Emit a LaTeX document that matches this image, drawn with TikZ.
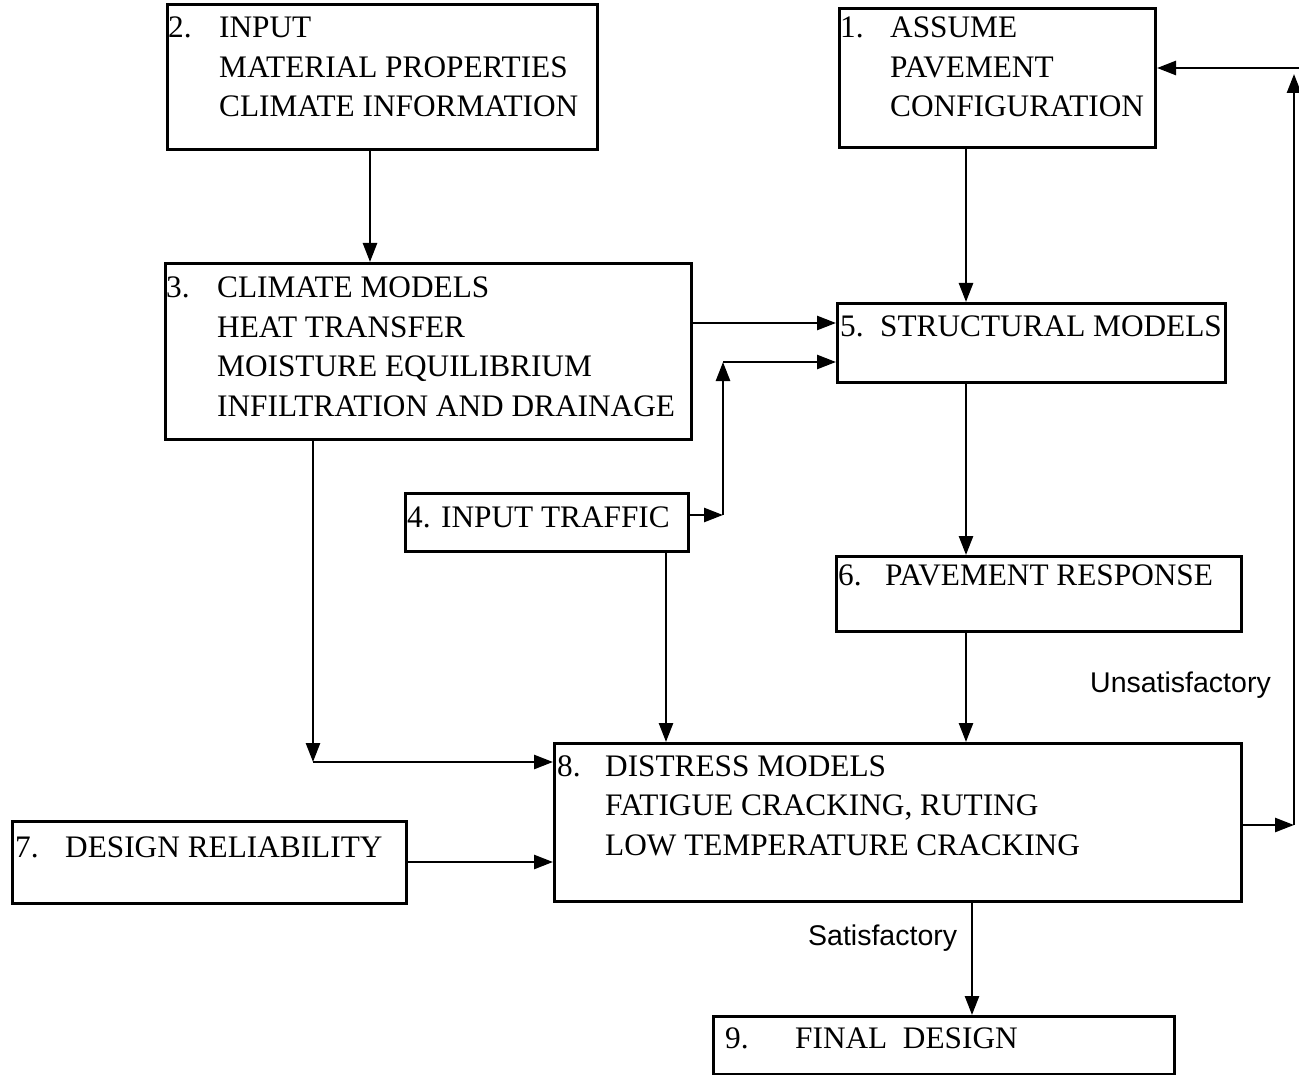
\documentclass[tikz,border=0pt]{standalone}
\usepackage{fontspec}
\setmainfont{Liberation Serif}
\setsansfont{Liberation Sans}
\usetikzlibrary{arrows.meta}
\begin{document}
\begin{tikzpicture}[x=1pt,y=-1pt,
  box/.style={draw, line width=3pt, rectangle, inner sep=0pt, anchor=north west},
  txt/.style={inner sep=0pt, anchor=base west, font=\fontsize{31.3}{39.5}\selectfont},
  lab/.style={inner sep=0pt, anchor=base west, font=\sffamily\fontsize{28.5}{32}\selectfont},
  arr/.style={line width=2.6pt, -{Triangle[length=19pt,width=14pt]}}]
\useasboundingbox[fill=white] (0,0) rectangle (1299,1075);
% boxes
\node[box, minimum width=430pt, minimum height=145pt] (b2) at (166,3) {};
\node[box, minimum width=316pt, minimum height=139pt] (b1) at (838,7) {};
\node[box, minimum width=526pt, minimum height=176pt] (b3) at (164,262) {};
\node[box, minimum width=388pt, minimum height=79pt] (b5) at (836,302) {};
\node[box, minimum width=283pt, minimum height=58pt] (b4) at (404,492) {};
\node[box, minimum width=405pt, minimum height=75pt] (b6) at (835,555) {};
\node[box, minimum width=687pt, minimum height=158pt] (b8) at (553,742) {};
\node[box, minimum width=394pt, minimum height=82pt] (b7) at (11,820) {};
\node[box, minimum width=461pt, minimum height=58pt] (b9) at (712,1015) {};
% texts
\node[txt] (t2) at (168,38) {\begin{tabular}[t]{@{}p{51pt}@{}l@{}}2. & INPUT\\ & MATERIAL PROPERTIES\\ & CLIMATE INFORMATION\end{tabular}};
\node[txt] (t1) at (840,38) {\begin{tabular}[t]{@{}p{50pt}@{}l@{}}1. & ASSUME\\ & PAVEMENT\\ & CONFIGURATION\end{tabular}};
\node[txt] (t3) at (166,298) {\begin{tabular}[t]{@{}p{51pt}@{}l@{}}3. & CLIMATE MODELS\\ & HEAT TRANSFER\\ & MOISTURE EQUILIBRIUM\\ & INFILTRATION AND DRAINAGE\end{tabular}};
\node[txt] (t5) at (840,337) {\begin{tabular}[t]{@{}p{40pt}@{}l@{}}5. & STRUCTURAL MODELS\end{tabular}};
\node[txt] (t4) at (407,527) {4. INPUT TRAFFIC};
\node[txt] (t6) at (838,585) {\begin{tabular}[t]{@{}p{47pt}@{}l@{}}6. & PAVEMENT RESPONSE\end{tabular}};
\node[txt] (t8) at (557,776) {\begin{tabular}[t]{@{}p{48pt}@{}l@{}}8. & DISTRESS MODELS\\ & FATIGUE CRACKING, RUTING\\ & LOW TEMPERATURE CRACKING\end{tabular}};
\node[txt] (t7) at (15,857) {\begin{tabular}[t]{@{}p{50pt}@{}l@{}}7. & DESIGN RELIABILITY\end{tabular}};
\node[txt] (t9) at (725,1048) {\begin{tabular}[t]{@{}p{70pt}@{}l@{}}9. & FINAL\hspace{0.5em}DESIGN\end{tabular}};
\node[lab] (ls) at (808,945) {Satisfactory};
\node[lab] (lu) at (1090,692) {Unsatisfactory};
% helper coordinates
\coordinate (xA) at (370,0);
\coordinate (xB) at (966,0);
\coordinate (xC) at (313,0);
\coordinate (xD) at (666,0);
\coordinate (xE) at (723,0);
\coordinate (xF) at (972,0);
\coordinate (xG) at (1294,0);
\coordinate (yA) at (0,323);
\coordinate (yB) at (0,515);
\coordinate (yC) at (0,362);
\coordinate (yD) at (0,762);
\coordinate (yE) at (0,862);
\coordinate (yF) at (0,825);
\coordinate (yG) at (0,68);
\coordinate (c4) at (xE |- yB);
\coordinate (c5) at (xE |- yC);
\coordinate (c3) at (xC |- yD);
\coordinate (c8) at (xG |- yF);
\coordinate (ctop) at (1294,74);
\coordinate (cedge) at (1299,68);
% connectors
\draw[arr] (xA |- b2.south) -- (xA |- b3.north);
\draw[arr] (xB |- b1.south) -- (xB |- b5.north);
\draw[arr] (b3.east |- yA) -- (b5.west |- yA);
\draw[arr] (b4.east |- yB) -- (c4);
\draw[arr] (c4) -- (c5);
\draw[arr] (c5) -- (b5.west |- yC);
\draw[arr] (xB |- b5.south) -- (xB |- b6.north);
\draw[arr] (xC |- b3.south) -- (c3);
\draw[arr] (c3) -- (b8.west |- yD);
\draw[arr] (xD |- b4.south) -- (xD |- b8.north);
\draw[arr] (xB |- b6.south) -- (xB |- b8.north);
\draw[arr] (b7.east |- yE) -- (b8.west |- yE);
\draw[arr] (xF |- b8.south) -- (xF |- b9.north);
\draw[arr] (b8.east |- yF) -- (c8);
\draw[arr] (c8) -- (ctop);
\draw[arr] (cedge) -- (b1.east |- yG);
\end{tikzpicture}
\end{document}
